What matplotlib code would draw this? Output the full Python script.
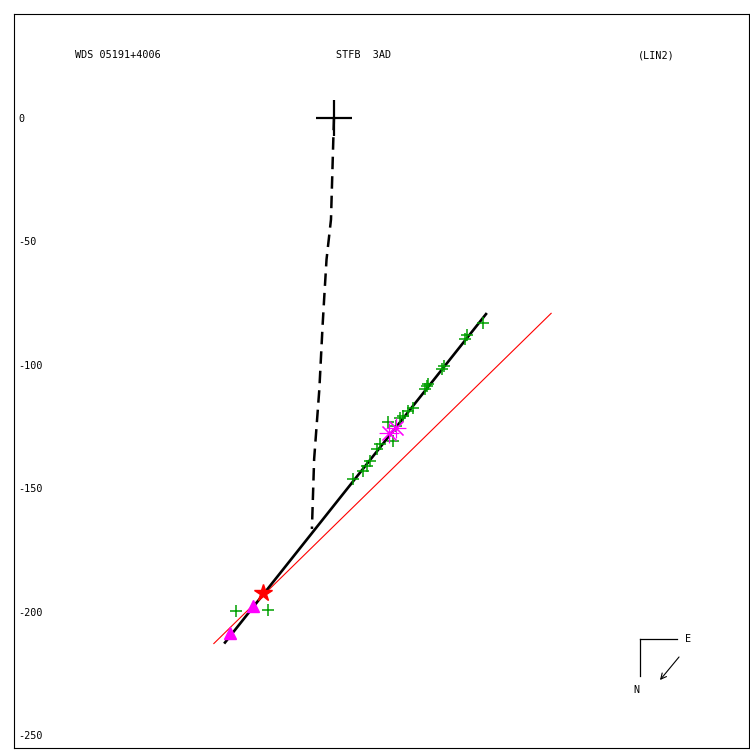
import matplotlib
matplotlib.use("Agg")
import matplotlib.pyplot as plt

# measurements (relative to primary at origin)
meas_x = [60.2, 52.9, 53.7, 44.4, 43.6, 37.6, 36.8, 38.0, 31.9, 29.9, 27.9, 26.7,
          21.8, 25.0, 23.8, 18.6, 17.4, 14.5, 13.3, 11.7, 7.7, -39.6, -26.7]
meas_y = [-83.2, -89.7, -88.0, -100.6, -101.8, -108.6, -109.9, -107.8, -117.5, -118.7,
          -120.8, -121.6, -123.2, -124.8, -130.9, -132.1, -134.1, -138.9, -141.0, -143.0,
          -146.2, -199.9, -199.5]

aster_x = [22.2, 25.0]
aster_y = [-127.6, -125.6]

tri_x = [-42.0, -32.7]
tri_y = [-208.8, -197.9]

star_x = [-28.5]
star_y = [-192.4]

fit_x = [-44.0, 61.4]
fit_y = [-212.5, -79.5]

red_x = [-48.5, 87.7]
red_y = [-212.9, -79.2]

dash_x = [0.0, -1.2, -3.0, -3.9, -4.6, -5.9, -8.0, -8.9]
dash_y = [0.0, -41.2, -57.4, -72.3, -84.4, -109.9, -138.2, -166.5]

y_ticks = [0, -50, -100, -150, -200, -250]

fig = plt.figure(figsize=(7.5, 7.5), dpi=100)
ax = fig.add_axes([14 / 750, 2 / 750, 735 / 750, 734 / 750])

ax.plot(red_x, red_y, color="red", lw=0.8)
ax.plot(dash_x, dash_y, color="black", lw=1.8, dashes=(5.0, 2.8))
ax.plot(fit_x, fit_y, color="black", lw=1.9)
ax.plot(meas_x, meas_y, ls="none", marker="+", ms=8.5, mew=1.1, color="#00a000")
ax.plot(aster_x, aster_y, ls="none", marker=(8, 2, 0), ms=14, mew=0.8, color="magenta")
ax.plot(tri_x, tri_y, ls="none", marker="^", ms=9, color="magenta")
ax.plot(star_x, star_y, ls="none", marker="*", ms=13, color="red")
ax.plot([0], [0], ls="none", marker="+", ms=26, mew=1.6, color="black")

ax.set_xlim(-129.2, 167.6)
ax.set_ylim(-255.2, 42.0)
ax.set_aspect("equal", adjustable="datalim")

ax.set_xticks([])
ax.set_yticks(y_ticks)
ax.set_yticklabels([str(v) for v in y_ticks], family="DejaVu Sans Mono", fontsize=7.3)
ax.tick_params(axis="y", length=0, pad=-3)
for lab in ax.get_yticklabels():
    lab.set_horizontalalignment("left")
for sp in ax.spines.values():
    sp.set_linewidth(0.8)

tfont = dict(family="DejaVu Sans Mono", fontsize=7.3, va="center", ha="left",
             transform=fig.transFigure)
fig.text(75 / 750, 1 - 55 / 750, "WDS 05191+4006", **tfont)
fig.text(336 / 750, 1 - 55 / 750, "STFB  3AD", **tfont)
fig.text(638 / 750, 1 - 55 / 750, "(LIN2)", **tfont)

# compass
ax.plot([0.8517, 0.9020], [0.1485, 0.1485], color="black", lw=0.9, transform=ax.transAxes)
ax.plot([0.8517, 0.8517], [0.1485, 0.0981], color="black", lw=0.9, transform=ax.transAxes)
ax.text(0.917, 0.1485, "E", transform=ax.transAxes, family="DejaVu Sans Mono",
        fontsize=7.3, ha="center", va="center")
ax.text(0.847, 0.079, "N", transform=ax.transAxes, family="DejaVu Sans Mono",
        fontsize=7.3, ha="center", va="center")
ax.annotate("", xy=(0.8789, 0.0926), xytext=(0.9048, 0.1240),
            xycoords="axes fraction", textcoords="axes fraction",
            arrowprops=dict(arrowstyle="->,head_length=0.4,head_width=0.2", lw=0.8,
                            color="black", shrinkA=0, shrinkB=0))

fig.savefig("out.png", dpi=100)
